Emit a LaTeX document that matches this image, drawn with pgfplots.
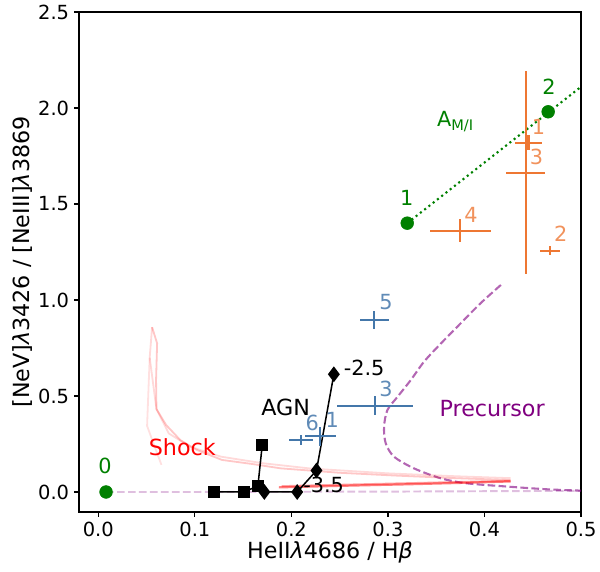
\documentclass[border=0pt]{standalone}
\usepackage{fontspec}
\setmainfont{DejaVu Sans}
\usepackage{pgfplots}
\pgfplotsset{compat=1.18}
\definecolor{mgreen}{RGB}{0,128,0}
\definecolor{torange}{RGB}{238,119,51}
\definecolor{tblue}{RGB}{68,119,170}
\definecolor{mpurple}{RGB}{128,0,128}
\begin{document}
\begin{tikzpicture}
\begin{axis}[scale only axis,width=361.4pt,height=360pt,
  xmin=-0.02,xmax=0.5,ymin=-0.104,ymax=2.5,
  xtick={0,0.1,0.2,0.3,0.4,0.5},ytick={0,0.5,1,1.5,2,2.5},
  /pgf/number format/assume math mode=true,
  /pgf/number format/.cd,fixed,fixed zerofill,precision=1,/pgfplots/.cd,
  tick label style={font=\fontsize{14}{16}\selectfont},
  label style={font=\fontsize{16}{18}\selectfont},
  xlabel={HeII\textit{λ}4686 / H\textit{β}},
  ylabel={[NeV]\textit{λ}3426 / [NeIII]\textit{λ}3869},
  tick align=outside,tick pos=left,
  major tick length=3.6pt,
  axis line style={line width=1.1pt},
  every tick/.style={black,line width=0.9pt},
  xlabel style={yshift=3pt},
  ylabel style={yshift=-3pt},
  clip=true]

% precursor: faint flat branch along zero
\addplot[mpurple,opacity=0.25,dash pattern=on 5.5pt off 2.4pt,line width=1.4pt] coordinates {
  (0.008,0.0)(0.1,0.0)(0.2,0.001)(0.3,0.002)(0.4,0.004)(0.5,0.006)};
% precursor main curve
\addplot[mpurple,opacity=0.6,dash pattern=on 5.5pt off 2.4pt,line width=1.5pt,smooth] coordinates {
  (0.417,1.078)(0.396,0.983)(0.3755,0.879)(0.355,0.774)(0.3375,0.679)
  (0.3237,0.583)(0.31,0.496)(0.2995,0.427)(0.296,0.34)(0.2977,0.254)
  (0.3063,0.184)(0.327,0.123)(0.355,0.071)(0.382,0.045)(0.424,0.028)
  (0.465,0.014)(0.5,0.007)};

% shock grids
\addplot[red,opacity=0.12,line width=1.3pt] coordinates {
  (0.0532,0.70)(0.0505,0.344)(0.0654,0.141)};
\addplot[red,opacity=0.15,line width=1.3pt] coordinates {
  (0.0557,0.858)(0.0532,0.70)(0.0602,0.432)(0.073,0.305)(0.095,0.236)
  (0.127,0.184)(0.17,0.15)(0.22,0.122)(0.3,0.097)(0.37,0.082)(0.427,0.072)};
\addplot[red,opacity=0.22,line width=1.3pt] coordinates {
  (0.0557,0.858)(0.0609,0.774)(0.0598,0.583)(0.0602,0.432)(0.0702,0.349)
  (0.085,0.27)(0.102,0.219)(0.128,0.167)(0.159,0.146)(0.189,0.123)
  (0.25,0.10)(0.31,0.085)(0.37,0.072)(0.427,0.062)};
\addplot[red,opacity=0.5,line width=1.6pt] coordinates {
  (0.187,0.024)(0.25,0.032)(0.32,0.040)(0.38,0.048)(0.427,0.055)};
\addplot[red,opacity=0.35,line width=1.5pt] coordinates {
  (0.19,0.030)(0.3,0.043)(0.427,0.058)};

% AGN models
\addplot[black,line width=1.1pt,mark=square*,mark size=3.6pt] coordinates {
  (0.1196,0.0)(0.1508,0.0)(0.1653,0.031)(0.1698,0.245)};
\addplot[black,line width=1.1pt,mark=diamond*,mark size=4.8pt] coordinates {
  (0.172,0.0)(0.206,0.0)(0.226,0.112)(0.244,0.613)};

% green sources
\addplot[mgreen,dash pattern=on 1.5pt off 2.4pt,line width=1.5pt] coordinates {(0.32,1.40)(0.5,2.11)};
\addplot[mgreen,only marks,mark=*,mark size=4.6pt] coordinates {
  (0.008,0.0)(0.32,1.40)(0.466,1.98)};

% orange crosses
\addplot[draw=none,mark=none,
  error bars/.cd,x dir=both,x explicit,y dir=both,y explicit,
  error mark=none,error bar style={torange,line width=1.5pt}]
  coordinates {
  (0.4456,1.819) +- (0.0138,0.039)
  (0.4426,1.663) +- (0.0206,0.529)
  (0.375,1.361) +- (0.0316,0.059)
  (0.468,1.257) +- (0.0102,0.023)};

% blue crosses
\addplot[draw=none,mark=none,
  error bars/.cd,x dir=both,x explicit,y dir=both,y explicit,
  error mark=none,error bar style={tblue,line width=1.5pt}]
  coordinates {
  (0.286,0.896) +- (0.0154,0.048)
  (0.2863,0.4495) +- (0.0394,0.048)
  (0.210,0.273) +- (0.0128,0.026)
  (0.230,0.290) +- (0.0164,0.050)};

% labels
\tikzset{lab/.style={font=\fontsize{15}{17}\selectfont,inner sep=0pt}}
\node[lab,mgreen] at (axis cs:0.007,0.135) {0};
\node[lab,mgreen] at (axis cs:0.3195,1.53) {1};
\node[lab,mgreen] at (axis cs:0.467,2.11) {2};
\node[lab,mgreen] at (axis cs:0.370,1.93) {A\textsubscript{M/I}};
\node[lab,torange!80!white] at (axis cs:0.456,1.90) {1};
\node[lab,torange!80!white] at (axis cs:0.454,1.745) {3};
\node[lab,torange!80!white] at (axis cs:0.386,1.443) {4};
\node[lab,torange!80!white] at (axis cs:0.479,1.344) {2};
\node[lab,tblue!85!white] at (axis cs:0.298,0.99) {5};
\node[lab,tblue!85!white] at (axis cs:0.298,0.536) {3};
\node[lab,tblue!85!white] at (axis cs:0.2215,0.362) {6};
\node[lab,tblue!85!white] at (axis cs:0.2424,0.375) {1};
\node[lab,black,anchor=west] at (axis cs:0.254,0.646) {-2.5};
\node[lab,black,anchor=west] at (axis cs:0.212,0.035) {-3.5};
\node[lab,black,font=\fontsize{16}{18}\selectfont] at (axis cs:0.194,0.44) {AGN};
\node[lab,red,font=\fontsize{16}{18}\selectfont] at (axis cs:0.087,0.234) {Shock};
\node[lab,mpurple,font=\fontsize{16}{18}\selectfont] at (axis cs:0.408,0.432) {Precursor};
\end{axis}
\pgfresetboundingbox
\path ([shift={(-56.9pt,-43.2pt)}]current axis.south west)
  rectangle ([shift={(13.7pt,8.6pt)}]current axis.north east);
\end{tikzpicture}
\end{document}
